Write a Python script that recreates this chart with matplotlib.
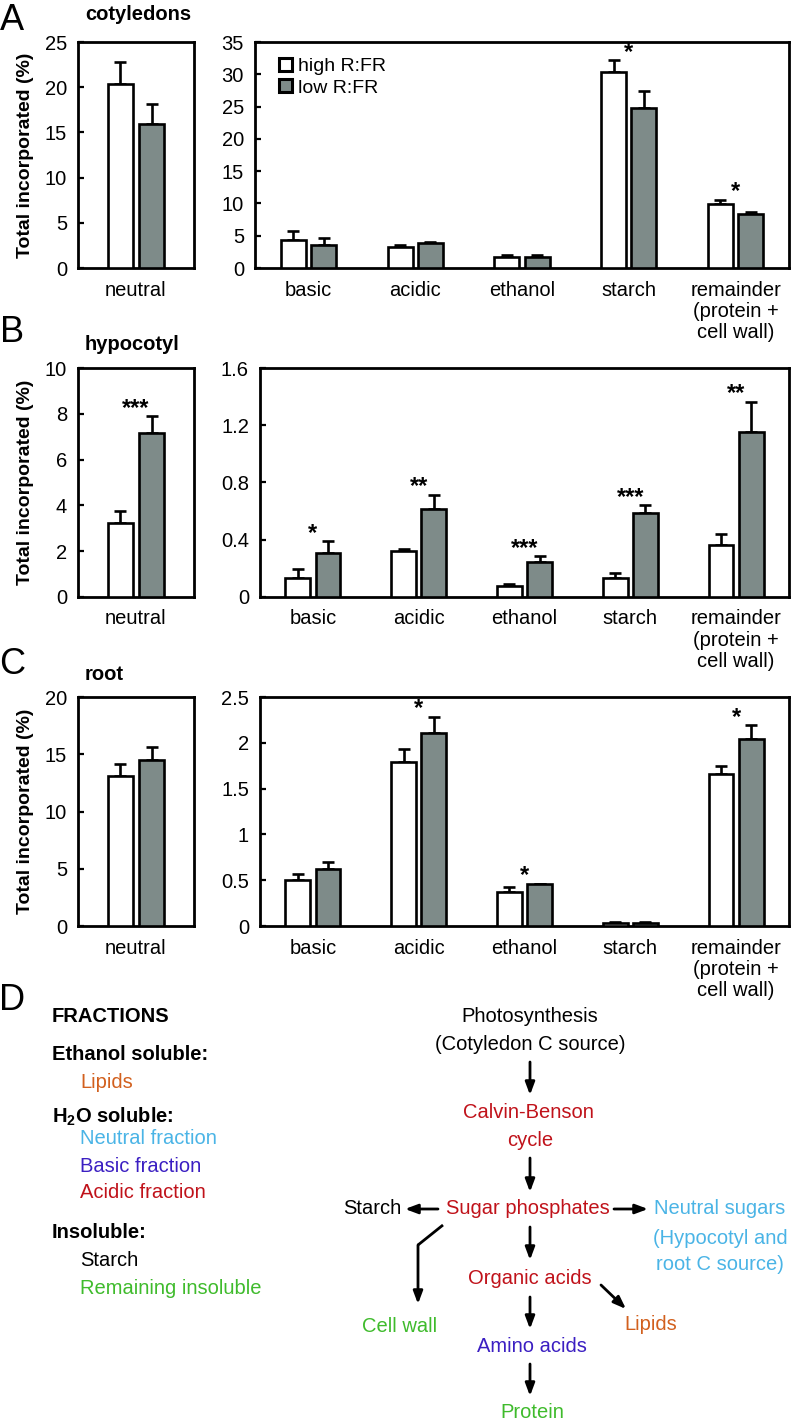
import matplotlib
matplotlib.use('Agg')
import matplotlib.pyplot as plt
from matplotlib.patches import Patch
from matplotlib.ticker import FuncFormatter
import numpy as np

plt.rcParams['font.family'] = ['Liberation Sans', 'DejaVu Sans']
plt.rcParams['mathtext.fontset'] = 'custom'
plt.rcParams['mathtext.rm'] = 'Liberation Sans'
plt.rcParams['mathtext.bf'] = 'Liberation Sans:bold'

# ---------------- data ----------------
neutral_label = ['neutral']
fractions = ['basic', 'acidic', 'ethanol', 'starch', 'remainder\n(protein +\ncell wall)']
series_names = ['high R:FR', 'low R:FR']

# cotyledons
cot_neutral = [20.3, 15.9]
cot_neutral_err = [2.45, 2.2]
cot_neutral_sig = ''
cot_high = [4.3, 3.3, 1.7, 30.4, 9.85]
cot_high_err = [1.5, 0.25, 0.25, 1.8, 0.75]
cot_low = [3.5, 3.8, 1.7, 24.8, 8.3]
cot_low_err = [1.2, 0.25, 0.25, 2.6, 0.35]
cot_sig = ['', '', '', '*', '*']

# hypocotyl
hyp_neutral = [3.25, 7.18]
hyp_neutral_err = [0.5, 0.72]
hyp_neutral_sig = '***'
hyp_high = [0.134, 0.318, 0.075, 0.134, 0.362]
hyp_high_err = [0.06, 0.02, 0.015, 0.035, 0.08]
hyp_low = [0.304, 0.614, 0.248, 0.59, 1.155]
hyp_low_err = [0.085, 0.1, 0.035, 0.05, 0.21]
hyp_sig = ['*', '**', '***', '***', '**']

# root
root_neutral = [13.06, 14.5]
root_neutral_err = [1.1, 1.15]
root_neutral_sig = ''
root_high = [0.497, 1.786, 0.37, 0.03, 1.66]
root_high_err = [0.07, 0.146, 0.055, 0.017, 0.09]
root_low = [0.62, 2.107, 0.458, 0.03, 2.04]
root_low_err = [0.075, 0.18, 0.005, 0.017, 0.155]
root_sig = ['', '*', '*', '', '*']

# axis ranges
cot_left_ticks = [0, 5, 10, 15, 20, 25]
cot_right_ticks = [0, 5, 10, 15, 20, 25, 30, 35]
hyp_left_ticks = [0, 2, 4, 6, 8, 10]
hyp_right_ticks = [0, 0.4, 0.8, 1.2, 1.6]
root_left_ticks = [0, 5, 10, 15, 20]
root_right_ticks = [0, 0.5, 1, 1.5, 2, 2.5]

# ---------------- styling ----------------
W, H = 793, 1424
DPI = 100
WHITE = 'white'
GRAY = '#7e8b89'
FS = 14.5
LW = 2.0
BAR_LW = 1.9

fig = plt.figure(figsize=(W / DPI, H / DPI), dpi=DPI)


def px_axes(l, t, r, b):
    return fig.add_axes([l / W, 1 - b / H, (r - l) / W, (b - t) / H])


def style_axes(ax, ticks):
    for s in ax.spines.values():
        s.set_linewidth(LW)
        s.set_color('black')
    ax.set_ylim(ticks[0], ticks[-1])
    ax.set_yticks(ticks)
    ax.yaxis.set_major_formatter(FuncFormatter(lambda v, p: f"{v:g}"))
    ax.tick_params(axis='y', direction='in', length=4.5, width=1.6, pad=8, labelsize=FS)
    ax.tick_params(axis='x', length=0, pad=9, labelsize=FS)


def draw_bars(ax, x, high, high_err, low, low_err, sig, width, off):
    x = np.asarray(x, dtype=float)
    ax.bar(x - off, high, width, color=WHITE, edgecolor='black', linewidth=BAR_LW, zorder=3)
    ax.bar(x + off, low, width, color=GRAY, edgecolor='black', linewidth=BAR_LW, zorder=3)
    ax.errorbar(x - off, high, yerr=[np.zeros(len(x)), high_err], fmt='none',
                ecolor='black', elinewidth=1.9, capsize=4, capthick=1.9, zorder=2)
    ax.errorbar(x + off, low, yerr=[np.zeros(len(x)), low_err], fmt='none',
                ecolor='black', elinewidth=1.9, capsize=4, capthick=1.9, zorder=2)
    tops = np.maximum(np.asarray(high) + np.asarray(high_err),
                      np.asarray(low) + np.asarray(low_err))
    for xi, t, s in zip(x, tops, sig):
        if s:
            ax.annotate(s, xy=(xi, t), xytext=(0, 1), textcoords='offset points',
                        ha='center', va='baseline', fontsize=17, fontweight='bold')


rows = [
    dict(letter='A', title='cotyledons', top=42, bottom=268, rl=255,
         neutral=cot_neutral, neutral_err=cot_neutral_err, neutral_sig=cot_neutral_sig,
         high=cot_high, high_err=cot_high_err, low=cot_low, low_err=cot_low_err, sig=cot_sig,
         lt=cot_left_ticks, rt=cot_right_ticks, letter_y=20, title_y=15, legend=True),
    dict(letter='B', title='hypocotyl', top=368, bottom=597, rl=260,
         neutral=hyp_neutral, neutral_err=hyp_neutral_err, neutral_sig=hyp_neutral_sig,
         high=hyp_high, high_err=hyp_high_err, low=hyp_low, low_err=hyp_low_err, sig=hyp_sig,
         lt=hyp_left_ticks, rt=hyp_right_ticks, letter_y=333, title_y=345, legend=False),
    dict(letter='C', title='root', top=697, bottom=926, rl=260,
         neutral=root_neutral, neutral_err=root_neutral_err, neutral_sig=root_neutral_sig,
         high=root_high, high_err=root_high_err, low=root_low, low_err=root_low_err, sig=root_sig,
         lt=root_left_ticks, rt=root_right_ticks, letter_y=665, title_y=675, legend=False),
]

for r in rows:
    axl = px_axes(78, r['top'], 194, r['bottom'])
    style_axes(axl, r['lt'])
    axl.set_xlim(-0.5, 0.5)
    draw_bars(axl, [0], [r['neutral'][0]], [r['neutral_err'][0]],
              [r['neutral'][1]], [r['neutral_err'][1]], [r['neutral_sig']], 0.215, 0.134)
    axl.set_xticks([0])
    axl.set_xticklabels(neutral_label)

    axr = px_axes(r['rl'], r['top'], 789, r['bottom'])
    style_axes(axr, r['rt'])
    xs = np.arange(len(fractions))
    axr.set_xlim(-0.5, len(fractions) - 0.5)
    draw_bars(axr, xs, r['high'], r['high_err'], r['low'], r['low_err'], r['sig'], 0.234, 0.142)
    axr.set_xticks(xs)
    axr.set_xticklabels(fractions, linespacing=1.15, va='top')

    yc = (r['top'] + r['bottom']) / 2
    fig.text(26 / W, 1 - yc / H, 'Total incorporated (%)', rotation=90, ha='center',
             va='center', fontsize=14, fontweight='bold')
    fig.text(12 / W, 1 - r['letter_y'] / H, r['letter'], ha='center', va='center', fontsize=26)
    fig.text(85 / W, 1 - r['title_y'] / H, r['title'], ha='left', va='center',
             fontsize=FS, fontweight='bold')

    if r['legend']:
        handles = [Patch(facecolor=WHITE, edgecolor='black', linewidth=2.2),
                   Patch(facecolor=GRAY, edgecolor='black', linewidth=2.2)]
        axr.legend(handles, series_names, loc='upper left', frameon=False,
                   bbox_to_anchor=(0.045, 0.93), fontsize=14, handlelength=0.65,
                   handleheight=0.65, handletextpad=0.3, labelspacing=0.22,
                   borderpad=0, borderaxespad=0)

# ---------------- panel D ----------------
axd = fig.add_axes([0, 0, 1, 1], facecolor='none')
axd.set_xlim(0, W)
axd.set_ylim(H, 0)
axd.axis('off')

C_ORANGE = '#d2601e'
C_LBLUE = '#4ab4e6'
C_PURPLE = '#3b1fc2'
C_RED = '#c0121a'
C_GREEN = '#3fbb2c'

axd.text(12, 1000, 'D', ha='center', va='center', fontsize=26)

left_items = [
    ('FRACTIONS', 52, 1017, 'black', 'bold'),
    ('Ethanol soluble:', 52, 1055, 'black', 'bold'),
    ('Lipids', 80, 1082, C_ORANGE, 'normal'),
    (r'H$_\mathbf{2}$O soluble:', 52, 1117, 'black', 'bold'),
    ('Neutral fraction', 80, 1138, C_LBLUE, 'normal'),
    ('Basic fraction', 80, 1166, C_PURPLE, 'normal'),
    ('Acidic fraction', 80, 1193, C_RED, 'normal'),
    ('Insoluble:', 52, 1232, 'black', 'bold'),
    ('Starch', 80, 1260, 'black', 'normal'),
    ('Remaining insoluble', 80, 1288, C_GREEN, 'normal'),
]
for t, x, y, c, w in left_items:
    axd.text(x, y, t, ha='left', va='center', fontsize=FS, color=c, fontweight=w)

diagram = [
    ('Photosynthesis', 530, 1017, 'black', 'center'),
    ('(Cotyledon C source)', 530, 1045, 'black', 'center'),
    ('Calvin-Benson', 528, 1113, C_RED, 'center'),
    ('cycle', 530, 1140, C_RED, 'center'),
    ('Sugar phosphates', 528, 1209, C_RED, 'center'),
    ('Starch', 401, 1209, 'black', 'right'),
    ('Neutral sugars', 720, 1209, C_LBLUE, 'center'),
    ('(Hypocotyl and', 720, 1238, C_LBLUE, 'center'),
    ('root C source)', 720, 1265, C_LBLUE, 'center'),
    ('Organic acids', 530, 1279, C_RED, 'center'),
    ('Lipids', 651, 1325, C_ORANGE, 'center'),
    ('Amino acids', 532, 1347, C_PURPLE, 'center'),
    ('Protein', 532, 1412, C_GREEN, 'center'),
    ('Cell wall', 400, 1327, C_GREEN, 'center'),
]
for t, x, y, c, ha in diagram:
    axd.text(x, y, t, ha=ha, va='center', fontsize=FS, color=c)

arrow_style = dict(arrowstyle='-|>,head_length=0.75,head_width=0.28', color='black',
                   lw=2.0, shrinkA=0, shrinkB=0)
arrows = [
    ((530, 1062), (530, 1095)),
    ((530, 1158), (530, 1192)),
    ((438, 1209), (405, 1209)),
    ((614, 1209), (648, 1209)),
    ((530, 1227), (530, 1260)),
    ((601, 1285), (626, 1309)),
    ((530, 1297), (530, 1329)),
    ((530, 1364), (530, 1396)),
    ((418, 1245), (418, 1304)),
]
for (x0, y0), (x1, y1) in arrows:
    axd.annotate('', xy=(x1, y1), xytext=(x0, y0), arrowprops=arrow_style)
axd.plot([443, 418], [1225, 1245], color='black', lw=2.0, solid_capstyle='butt')

fig.savefig('out.png', dpi=DPI)
